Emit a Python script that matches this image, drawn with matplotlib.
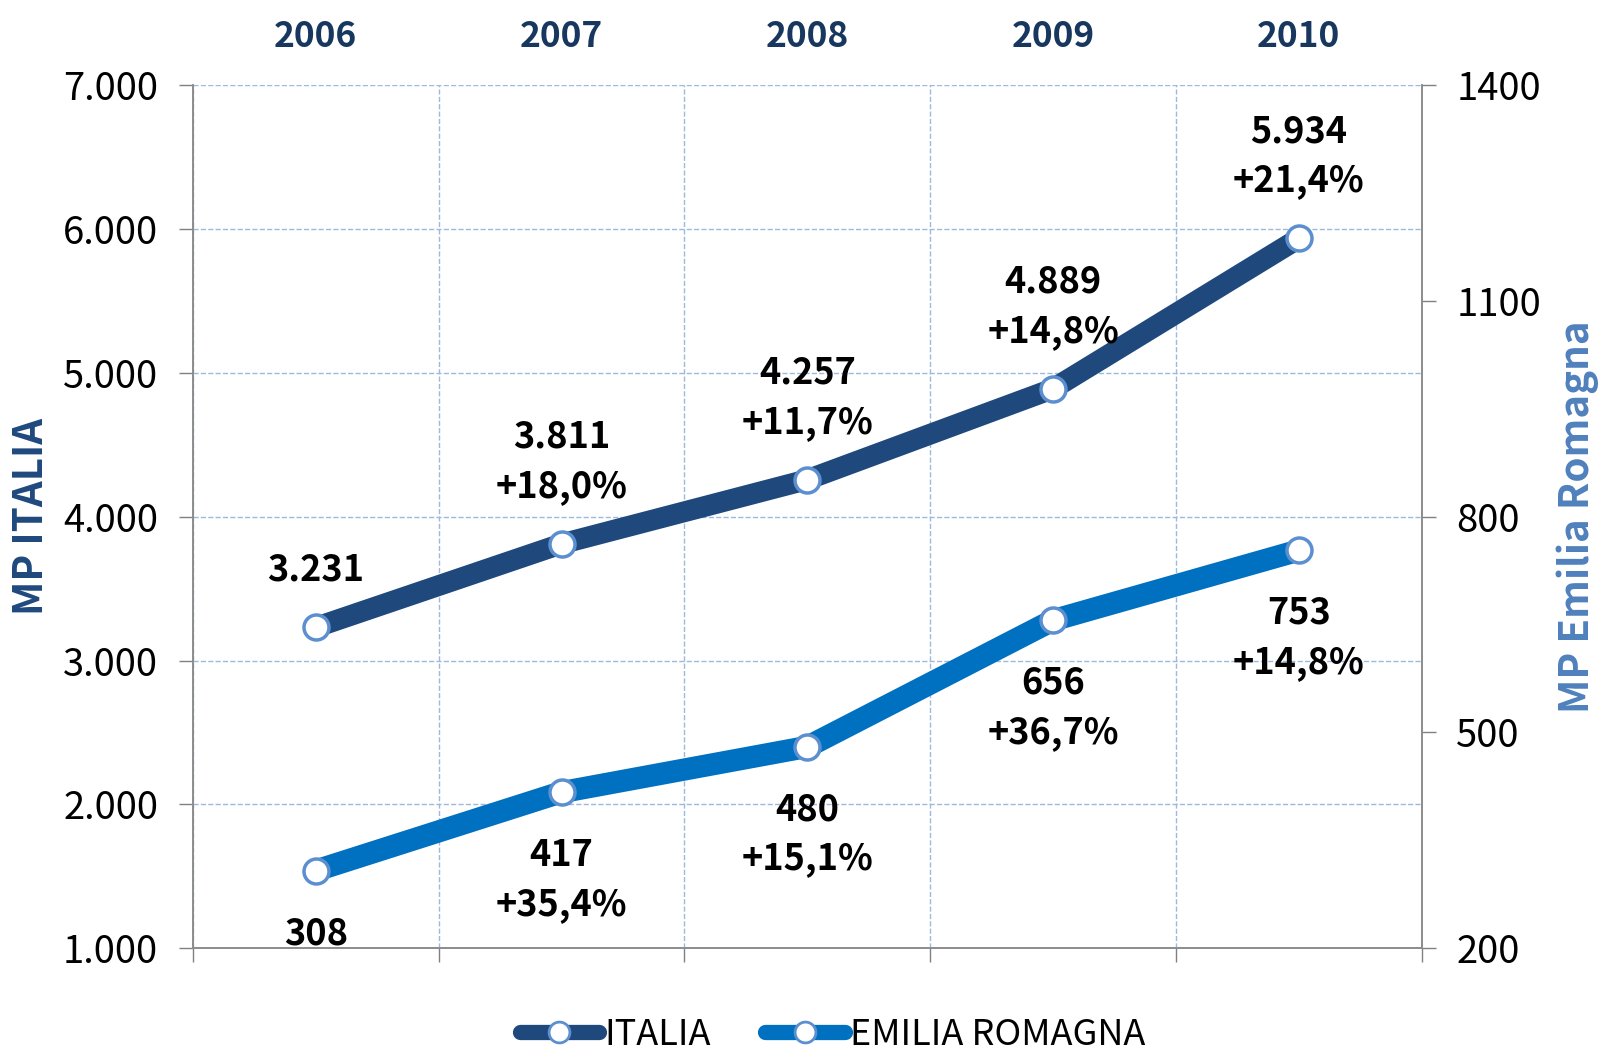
import numpy as np
import matplotlib
matplotlib.use('Agg')
import matplotlib.pyplot as plt
from matplotlib.lines import Line2D
from matplotlib.ticker import FuncFormatter, FixedLocator

plt.rcParams['font.family'] = ['Noto Sans CJK SC', 'DejaVu Sans']

# dati
anni = ['2006', '2007', '2008', '2009', '2010']
italia = [3231, 3811, 4257, 4889, 5934]
italia_var = ['', '+18,0%', '+11,7%', '+14,8%', '+21,4%']
emilia = [308, 417, 480, 656, 753]
emilia_var = ['', '+35,4%', '+15,1%', '+36,7%', '+14,8%']

col_italia = '#1F497D'
col_emilia = '#0070C0'
col_marker = '#5B8FD0'
col_grid = '#9DB9DC'

fig = plt.figure(figsize=(16.01, 10.56), dpi=100)
ax = fig.add_axes([0.1205, 0.102, 0.7675, 0.8175])
ax2 = ax.twinx()

x = np.arange(len(anni))

ax.plot(x, italia, color=col_italia, lw=15, solid_capstyle='round', zorder=3,
        marker='o', ms=18, mfc='white', mec=col_marker, mew=2.5)
ax2.plot(x, emilia, color=col_emilia, lw=16, solid_capstyle='round', zorder=3,
         marker='o', ms=18, mfc='white', mec=col_marker, mew=2.5)

def fmt_it(v):
    return f'{v:,}'.replace(',', '.')

for i in range(len(anni)):
    t = fmt_it(italia[i]) if italia_var[i] == '' else fmt_it(italia[i]) + '\n' + italia_var[i]
    ax.annotate(t, (x[i], italia[i]), xytext=(0, 28), textcoords='offset points',
                ha='center', va='bottom', fontsize=26, fontweight='bold',
                linespacing=1.42, color='black')
    t = str(emilia[i]) if emilia_var[i] == '' else str(emilia[i]) + '\n' + emilia_var[i]
    ax2.annotate(t, (x[i], emilia[i]), xytext=(0, -32), textcoords='offset points',
                 ha='center', va='top', fontsize=26, fontweight='bold',
                 linespacing=1.42, color='black')

ax.set_xlim(-0.5, len(anni) - 0.5)
ax.set_ylim(1000, 7000)
ax2.set_ylim(200, 1400)
ax.set_yticks(np.arange(1000, 7001, 1000))
ax.yaxis.set_major_formatter(FuncFormatter(lambda v, p: fmt_it(int(v))))
ax2.set_yticks(np.arange(200, 1401, 300))

ax.set_xticks(x)
ax.set_xticklabels(anni)
ax.xaxis.set_minor_locator(FixedLocator(np.arange(-0.5, len(anni), 1.0)))
ax.tick_params(axis='x', which='major', top=False, bottom=False, labeltop=True,
               labelbottom=False, labelsize=25.5, labelcolor='#17375E', pad=19)
for lb in ax.get_xticklabels():
    lb.set_fontweight('bold')
ax.tick_params(axis='x', which='minor', bottom=True, top=False, length=10,
               width=1, color='#808080')
ax.tick_params(axis='y', length=10, width=1, color='#808080', labelsize=27.5, pad=15)
ax2.tick_params(axis='y', length=10, width=1, color='#808080', labelsize=27.5, pad=15)

ax.grid(True, which='minor', axis='x', linestyle='--', color=col_grid, lw=1)
ax.grid(True, which='major', axis='y', linestyle='--', color=col_grid, lw=1)
ax.set_axisbelow(True)

for a in (ax, ax2):
    a.spines['top'].set_visible(False)
    for s in ('left', 'right', 'bottom'):
        a.spines[s].set_color('#8C8C8C')
        a.spines[s].set_linewidth(1.2)

ax.set_ylabel('MP ITALIA', fontsize=29, fontweight='bold', color=col_italia, labelpad=8)
ax2.set_ylabel('MP Emilia Romagna', fontsize=29, fontweight='bold', color='#4F81BD', labelpad=11)

handles = [
    Line2D([], [], color=col_italia, lw=11, solid_capstyle='round', marker='o', ms=15,
           mfc='white', mec=col_marker, mew=2),
    Line2D([], [], color=col_emilia, lw=11, solid_capstyle='round', marker='o', ms=15,
           mfc='white', mec=col_marker, mew=2),
]
fig.legend(handles, ['ITALIA', 'EMILIA ROMAGNA'], loc='lower center',
           bbox_to_anchor=(0.52, -0.028), ncol=2, frameon=False, fontsize=26,
           handlelength=2.2, columnspacing=1.5, handletextpad=0.15)

fig.savefig('out.png', dpi=100)
